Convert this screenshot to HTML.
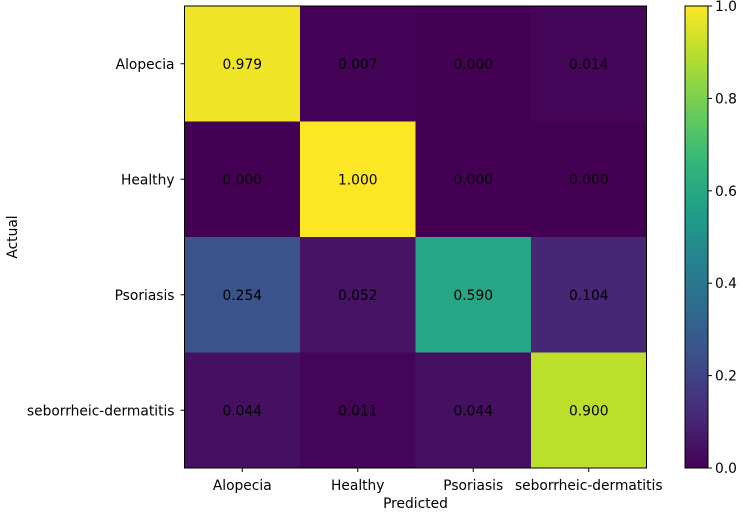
<!DOCTYPE html>
<html><head><meta charset="utf-8"><style>
body{margin:0;background:#fff;}
text{font-family:"DejaVu Sans","Liberation Sans",sans-serif;font-size:13.8px;fill:#000;}
</style></head><body>
<svg id="chart" width="743" height="515" xmlns="http://www.w3.org/2000/svg">
<defs><linearGradient id="cbg" x1="0" y1="1" x2="0" y2="0"></linearGradient></defs>
<g id="cells"></g>
<g id="axes"></g>
</svg>
<script>
const categories=["Alopecia","Healthy","Psoriasis","seborrheic-dermatitis"];
const row0=[0.979,0.007,0.000,0.014];
const row1=[0.000,1.000,0.000,0.000];
const row2=[0.254,0.052,0.590,0.104];
const row3=[0.044,0.011,0.044,0.900];
const colorTicks=[0.0,0.2,0.4,0.6,0.8,1.0];
const matrix=[row0,row1,row2,row3];

const vir=[[68,1,84],[72,40,120],[62,74,137],[49,104,142],[38,130,142],[31,158,137],[53,183,121],[109,205,89],[180,222,44],[253,231,37]];
function viridis(v){v=Math.max(0,Math.min(1,v));const p=v*(vir.length-1),i=Math.min(Math.floor(p),vir.length-2),f=p-i;
const c=vir[i].map((a,k)=>Math.round(a+(vir[i+1][k]-a)*f));return `rgb(${c[0]},${c[1]},${c[2]})`;}
const X0=184.5,Y0=6,W=462,H=462,n=categories.length,cw=W/n,ch=H/n;
const xs=i=>X0+i*cw, ys=j=>Y0+j*ch;
const NS="http://www.w3.org/2000/svg";
function mk(t,a,p){const e=document.createElementNS(NS,t);for(const k in a)e.setAttribute(k,a[k]);p.appendChild(e);return e;}
const cells=document.getElementById('cells'),axes=document.getElementById('axes');
matrix.forEach((row,j)=>row.forEach((v,i)=>{
 const r=mk('rect',{x:xs(i),y:ys(j),width:cw+0.5,height:ch+0.5,fill:viridis(v)},cells);
 
 
 const t=mk('text',{x:xs(i)+cw/2,y:ys(j)+ch/2+5,'text-anchor':'middle'},cells);
 t.textContent=v.toFixed(3);
 
 
}));
const fr=mk('rect',{x:X0,y:Y0,width:W,height:H,fill:'none',stroke:'#000','stroke-width':1},axes);


categories.forEach((c,i)=>{
 mk('line',{x1:xs(i)+cw/2,x2:xs(i)+cw/2,y1:Y0+H,y2:Y0+H+4,stroke:'#000'},axes);
 const t=mk('text',{x:xs(i)+cw/2,y:Y0+H+22,'text-anchor':'middle'},axes);t.textContent=c;
 
 
 mk('line',{x1:X0-4,x2:X0,y1:ys(i)+ch/2,y2:ys(i)+ch/2,stroke:'#000'},axes);
 const u=mk('text',{x:X0-10,y:ys(i)+ch/2+5,'text-anchor':'end'},axes);u.textContent=c;
 
 
});
const xt=mk('text',{x:X0+W/2,y:508,'text-anchor':'middle'},axes);xt.textContent='Predicted';


const yt=mk('text',{x:17,y:Y0+H/2,'text-anchor':'middle',transform:`rotate(-90 17 ${Y0+H/2})`},axes);yt.textContent='Actual';


const g=document.getElementById('cbg');
for(let k=0;k<=20;k++)mk('stop',{offset:k/20,'stop-color':viridis(k/20)},g);
const CX=685,CW=23;
const cb=mk('rect',{x:CX,y:Y0,width:CW,height:H,fill:'url(#cbg)',stroke:'#000'},axes);


colorTicks.forEach(v=>{const y=Y0+H-v*H;
 mk('line',{x1:CX+CW,x2:CX+CW+4,y1:y,y2:y,stroke:'#000'},axes);
 const t=mk('text',{x:CX+CW+7,y:y+5},axes);t.textContent=v.toFixed(1);
 
 
});
</script>
</body></html>
